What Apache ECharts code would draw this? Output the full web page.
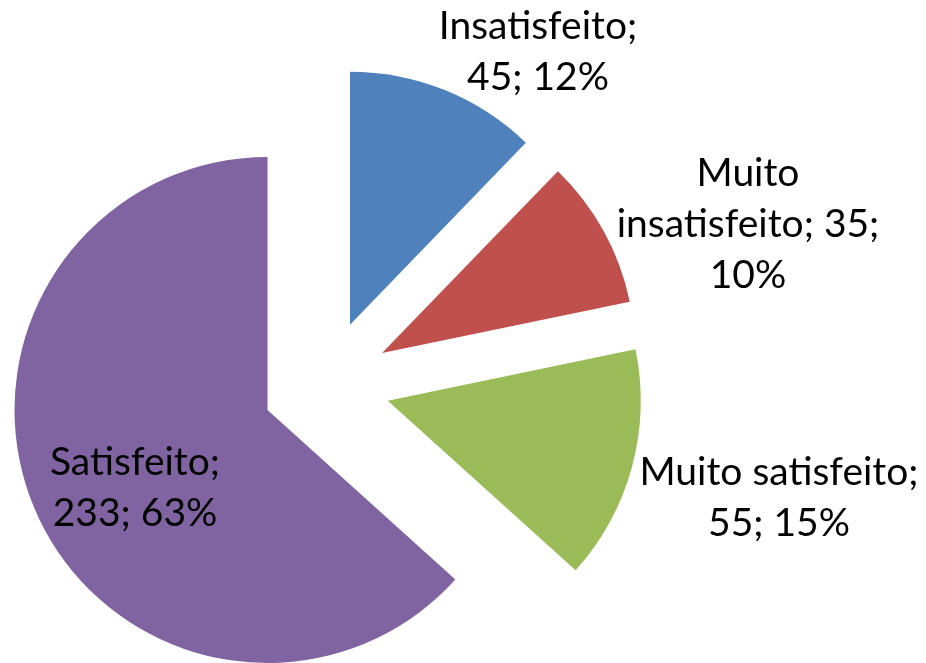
<!DOCTYPE html>
<html>
<head>
<meta charset="utf-8">
<script src="https://cdn.jsdelivr.net/npm/echarts@6/dist/echarts.min.js"></script>
<style>
html,body{margin:0;padding:0;background:#fff;}
#chart{width:926px;height:663px;}
</style>
</head>
<body>
<div id="chart"></div>
<script>
const categories = ['Insatisfeito', 'Muito insatisfeito', 'Muito satisfeito', 'Satisfeito'];
const values = [45, 35, 55, 233];
const colors = ['#4F81BD', '#C0504D', '#9BBB59', '#8064A2'];
// label text block centres (layout)
const labelPos = [[538, 52], [748, 224], [779, 498], [135, 488]];

const chart = echarts.init(document.getElementById('chart'));

function fmt(p) {
  const i = p.dataIndex;
  if (i === 1) {
    const w = p.name.split(' ');
    return w[0] + '\n' + w.slice(1).join(' ') + '; ' + p.value + ';\n' + p.percent + '%';
  }
  return p.name + ';\n' + p.value + '; ' + p.percent + '%';
}

const common = {
  type: 'pie',
  center: [326, 384],
  radius: 253,
  startAngle: 90,
  clockwise: true,
  percentPrecision: 0,
  avoidLabelOverlap: false,
  emphasis: { disabled: true },
  labelLine: { show: false }
};

chart.setOption({
  animation: false,
  backgroundColor: '#ffffff',
  series: [
    Object.assign({}, common, {
      name: 'slices',
      selectedMode: 'multiple',
      selectedOffset: 64,
      itemStyle: { borderWidth: 0 },
      label: { show: false },
      data: categories.map((name, i) => ({
        name: name, value: values[i], selected: true,
        itemStyle: { color: colors[i] }
      }))
    }),
    Object.assign({}, common, {
      name: 'labels',
      silent: true,
      selectedMode: false,
      itemStyle: { color: 'rgba(0,0,0,0)', borderWidth: 0 },
      label: {
        show: true,
        position: 'inside',
        formatter: fmt,
        color: '#000',
        fontFamily: 'Lato',
        fontSize: 39,
        lineHeight: 51,
        align: 'center'
      },
      labelLayout: function (params) {
        const pos = labelPos[params.dataIndex];
        return { x: pos[0], y: pos[1], align: 'center', verticalAlign: 'middle' };
      },
      data: categories.map((name, i) => ({ name: name, value: values[i] }))
    })
  ]
});
</script>
</body>
</html>
